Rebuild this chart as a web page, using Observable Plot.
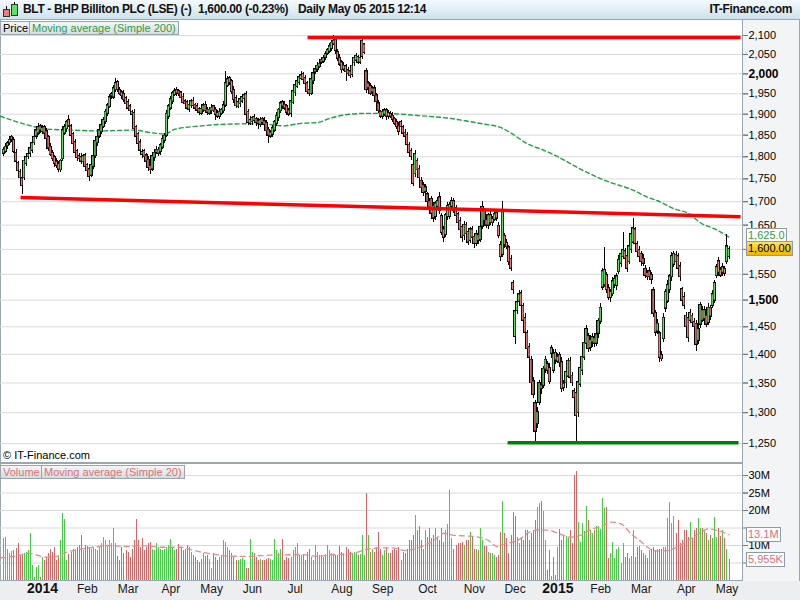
<!DOCTYPE html>
<html><head><meta charset="utf-8">
<script src="https://cdn.jsdelivr.net/npm/d3@7"></script>
<script src="https://cdn.jsdelivr.net/npm/@observablehq/plot@0.6"></script>
<style>
body{margin:0;background:#fff;font-family:"Liberation Sans",Arial,sans-serif;}
#wrap{position:relative;width:800px;height:600px;overflow:hidden;background:#fff;}
.abs{position:absolute;}
#hdr{left:0;top:0;width:800px;height:19px;background:linear-gradient(#f4fafd,#cde2ee);border-bottom:1px solid #9aa8b4;font-weight:bold;font-size:12px;color:#111;letter-spacing:-0.35px;}
#hdr span{position:absolute;line-height:19px;top:0;white-space:nowrap;}
.leg{position:absolute;height:12px;line-height:12px;font-size:11px;padding:0 2px;background:linear-gradient(#f3f6f8,#d6dde2);border:1px solid #98a4ae;white-space:nowrap;}
.box{position:absolute;font-size:11px;line-height:13px;height:13px;padding:0 1px;border:1px solid #8f9aa4;white-space:nowrap;}
</style></head>
<body>
<div id="wrap">
  <div class="abs" style="left:743px;top:20px;width:56px;height:561px;background:#f3f4f5;border-right:1px solid #9aa6b0;"></div>
  <div class="abs" style="left:0;top:581px;width:800px;height:19px;background:#eceef0;"></div>
  <div class="abs" style="left:0;top:20px;width:743px;height:443px;box-sizing:border-box;border-left:1px solid #9aa6b0;border-right:1px solid #9aa6b0;border-bottom:1px solid #9aa6b0;"></div>
  <div class="abs" style="left:0;top:463px;width:743px;height:118px;box-sizing:border-box;border-left:1px solid #9aa6b0;border-right:1px solid #9aa6b0;border-top:1px solid #9aa6b0;border-bottom:1px solid #9aa6b0;"></div>
  <div id="price" class="abs" style="left:0;top:20px;"></div>
  <div id="vol" class="abs" style="left:0;top:463px;"></div>
  <div id="hdr" class="abs">
    <div class="abs" style="left:6px;top:6px;width:1px;height:11px;background:#000"></div>
    <div class="abs" style="left:3px;top:9px;width:5px;height:6px;background:#f07a7a;border:1px solid #333"></div>
    <div class="abs" style="left:14px;top:2px;width:1px;height:14px;background:#000"></div>
    <div class="abs" style="left:11px;top:4px;width:5px;height:10px;background:#5fe05f;border:1px solid #333"></div>
    <span style="left:23px">BLT - BHP Billiton PLC (LSE) (-)</span>
    <span style="left:198px">1,600.00 (-0.23%)</span>
    <span style="left:298px">Daily</span>
    <span style="left:328px">May 05 2015 12:14</span>
    <span style="right:8px">IT-Finance.com</span>
  </div>
  <div class="leg" style="left:0;top:21px;color:#000">Price</div>
  <div class="leg" style="left:29px;top:21px;color:#2f9e3f">Moving average (Simple 200)</div>
  <div class="leg" style="left:0;top:465px;color:#e07070">Volume</div>
  <div class="leg" style="left:41px;top:465px;color:#e07070">Moving average (Simple 20)</div>
  <div class="abs" style="left:3px;top:448px;font-size:11px;line-height:14px;color:#000">© IT-Finance.com</div>
  <div id="labels"></div>
</div>
<script>
const open = [
1808,1812,1825,1832,1845,1838,1808,1785,1765,1750,
1752,1785,1800,1808,1815,1832,1848,1855,1870,1858,
1868,1858,1845,1822,1808,1798,1788,1782,1770,1795,
1855,1865,1885,1870,1852,1832,1812,1800,1798,1788,
1802,1780,1770,1758,1778,1802,1832,1848,1858,1870,
1882,1902,1918,1948,1942,1960,1978,1958,1952,1948,
1938,1928,1918,1900,1902,1868,1852,1832,1805,1812,
1802,1792,1778,1772,1798,1815,1808,1812,1822,1838,
1850,1895,1915,1932,1948,1958,1955,1952,1942,1930,
1928,1912,1920,1932,1922,1918,1912,1902,1910,1922,
1910,1902,1908,1918,1910,1902,1895,1902,1908,1922,
1970,1988,1980,1958,1938,1918,1925,1932,1938,1948,
1905,1878,1882,1892,1888,1882,1875,1888,1882,1878,
1862,1848,1852,1862,1878,1892,1908,1928,1922,1918,
1908,1902,1928,1952,1968,1978,1988,1998,1988,1975,
1958,1950,1982,2005,2012,2018,2035,2032,2042,2052,
2058,2065,2078,2088,2055,2040,2028,2012,2018,2008,
2005,1998,2028,2035,2042,2030,2085,2075,2005,1975,
1968,1955,1962,1945,1925,1905,1895,1900,1908,1895,
1900,1895,1888,1880,1870,1880,1868,1855,1850,1827,
1812,1780,1761,1790,1772,1745,1735,1722,1715,1700,
1705,1690,1668,1690,1708,1668,1640,1630,1668,1668,
1690,1700,1685,1672,1658,1645,1628,1650,1635,1618,
1640,1625,1612,1628,1620,1648,1680,1660,1650,1670,
1655,1662,1675,1648,1608,1590,1627,1612,1603,1580,
1532,1432,1480,1498,1512,1488,1465,1438,1412,1390,
1352,1315,1282,1317,1345,1346,1374,1382,1375,1402,
1372,1402,1388,1398,1385,1342,1350,1362,1388,1362,
1335,1332,1300,1348,1372,1395,1420,1432,1412,1422,
1428,1420,1438,1460,1525,1530,1548,1522,1505,1512,
1530,1528,1555,1572,1585,1595,1585,1575,1600,1615,
1640,1610,1598,1590,1580,1560,1552,1555,1548,1518,
1475,1442,1437,1398,1428,1485,1498,1520,1545,1570,
1588,1585,1565,1520,1505,1470,1465,1462,1470,1458,
1455,1425,1455,1480,1465,1470,1458,1485,1490,1500,
1547,1575,1558,1554,1560,1575,1585];
const close = [
1815,1822,1830,1838,1840,1812,1790,1768,1752,1735,
1790,1798,1805,1818,1830,1845,1860,1868,1862,1866,
1855,1842,1820,1805,1795,1785,1780,1772,1790,1860,
1868,1880,1872,1850,1830,1810,1798,1795,1790,1800,
1778,1768,1755,1780,1800,1835,1845,1860,1872,1885,
1905,1920,1940,1945,1962,1975,1960,1950,1945,1935,
1925,1915,1908,1905,1865,1848,1830,1815,1810,1800,
1790,1775,1770,1800,1808,1810,1815,1825,1840,1848,
1900,1918,1935,1950,1955,1952,1950,1940,1928,1925,
1915,1922,1930,1920,1915,1910,1905,1912,1920,1908,
1905,1910,1915,1908,1900,1895,1905,1910,1920,1975,
1985,1978,1955,1935,1920,1928,1935,1940,1945,1900,
1880,1885,1890,1885,1880,1878,1885,1880,1875,1860,
1850,1855,1865,1880,1895,1910,1925,1920,1915,1905,
1900,1930,1955,1970,1980,1990,1995,1985,1975,1955,
1950,1985,2000,2010,2020,2025,2030,2040,2050,2060,
2070,2080,2085,2060,2040,2025,2010,2020,2005,2000,
1995,2020,2040,2045,2030,2040,2045,2055,1960,1965,
1950,1962,1945,1930,1908,1895,1905,1908,1895,1902,
1895,1888,1878,1870,1858,1870,1855,1848,1828,1810,
1800,1740,1805,1770,1752,1730,1720,1730,1700,1688,
1675,1665,1695,1700,1680,1635,1625,1670,1690,1692,
1700,1682,1670,1655,1640,1625,1650,1632,1615,1640,
1625,1612,1630,1618,1645,1688,1660,1650,1670,1655,
1662,1672,1665,1628,1585,1680,1610,1605,1575,1562,
1520,1478,1495,1510,1490,1462,1440,1410,1395,1350,
1330,1270,1300,1349,1340,1374,1390,1372,1352,1410,
1400,1390,1395,1385,1340,1348,1368,1388,1360,1350,
1325,1295,1350,1375,1395,1420,1445,1410,1425,1430,
1420,1435,1460,1485,1555,1558,1520,1505,1515,1535,
1540,1545,1578,1590,1598,1582,1562,1605,1630,1642,
1612,1595,1585,1575,1572,1548,1545,1545,1540,1475,
1440,1455,1395,1392,1466,1515,1528,1545,1585,1590,
1575,1562,1545,1500,1490,1450,1430,1475,1458,1450,
1418,1445,1490,1462,1480,1455,1485,1470,1510,1532,
1563,1554,1548,1563,1552,1605,1600];
const upWick = [
6,8,5,10,4,6,9,5,7,6, 8,5,6,4,9,7,5,10,6,8, 5,7,4,8,6,5,9,6,4,10, 7,5,12,6,4,8,5,7,9,5,
6,4,8,5,10,6,7,5,8,6, 7,5,9,6,8,12,5,7,6,9, 5,8,6,4,10,6,5,8,7,5, 6,9,5,7,4,8,6,5,9,7,
10,6,8,5,9,7,6,4,8,6, 5,8,6,9,4,7,5,10,6,8, 6,5,9,4,7,6,8,5,10,30, 8,6,5,9,7,4,6,8,5,7,
6,9,5,7,4,8,6,5,9,6, 7,5,8,6,10,5,7,6,9,5, 6,8,5,9,7,6,10,5,8,6, 5,7,9,6,8,5,7,6,9,5,
8,6,15,5,7,9,6,8,5,7, 6,9,5,8,6,7,10,5,8,6, 7,5,8,6,9,4,7,6,5,8, 6,8,5,7,9,6,5,8,6,7,
8,6,10,5,7,9,6,8,5,7, 6,9,5,8,12,6,7,5,9,6, 8,6,7,5,9,6,8,5,7,6, 7,5,9,6,8,12,6,7,5,9,
6,8,5,7,9,20,6,8,5,7, 6,9,5,8,7,6,9,5,8,6, 7,5,9,6,8,5,7,6,9,5, 8,6,7,5,9,6,8,5,7,6,
5,8,6,9,7,5,8,6,9,7, 6,9,5,8,7,45,6,9,5,8, 7,6,9,5,37,6,6,8,5,23, 6,6,8,5,9,7,6,8,5,7,
6,9,5,7,8,6,9,5,8,6, 8,6,8,5,9,7,6,8,5,7, 6,9,5,8,7,6,9,5,8,6, 7,9,6,8,5,25,5];
const downWick = [
7,5,9,6,8,5,7,6,9,20, 5,8,6,9,7,5,8,6,7,5, 8,6,9,5,7,10,6,8,5,7, 6,9,5,8,7,6,9,5,8,6,
7,5,10,6,8,5,9,6,7,5, 6,8,5,9,7,6,8,5,9,7, 8,6,9,5,7,6,10,5,8,6, 7,9,10,6,8,5,7,9,6,8,
5,7,6,9,5,8,6,7,5,9, 6,8,5,7,9,6,8,5,7,6, 8,6,9,5,15,6,8,5,7,6, 5,8,6,9,7,5,8,6,9,15,
7,5,8,6,9,15,6,8,5,10, 20,6,8,5,7,9,6,8,5,7, 6,9,5,8,6,7,5,9,6,8, 7,5,8,6,9,5,7,6,8,5,
6,8,5,9,7,6,8,5,25,7, 8,6,9,5,7,6,8,5,9,6, 5,8,6,9,7,5,8,6,9,7, 6,8,5,7,9,6,8,5,7,6,
8,6,9,5,7,6,9,8,5,7, 6,9,8,7,8,6,12,5,8,6, 9,7,5,8,6,10,9,5,7,6, 8,10,6,9,5,7,8,6,9,5,
7,5,8,6,9,6,8,5,7,6, 9,15,8,6,9,5,7,8,6,9, 7,20,8,5,9,6,8,7,5,9, 6,8,5,9,7,6,9,5,8,6,
7,45,8,6,9,5,8,6,7,9, 8,6,9,5,7,6,8,5,9,6, 7,9,6,8,5,7,9,6,8,5, 6,8,5,9,7,6,8,5,9,7,
8,6,9,4,6,8,5,7,9,6, 7,5,9,6,8,7,9,6,8,5, 13,8,8,5,9,7,6,8,5,7, 6,8,5,9,7,6,5];
const volume = [
12.0,12.3,9.0,7.7,8.2,8.6,9.2,10.5,7.1,7.5, 7.7,8.0,8.6,13.3,4.3,1.0,3.8,4.3,1.0,6.7,
5.7,6.5,7.6,9.0,8.0,9.5,5.7,7.0,11.4,19.2, 17.4,5.7,7.5,8.0,9.0,8.6,9.5,10.0,12.8,8.6,
10.0,9.8,9.5,9.0,9.5,9.0,8.5,9.5,10.6,12.3, 11.4,10.0,11.4,10.6,15.0,10.5,7.0,5.7,9.5,7.6,
8.6,8.0,6.7,9.0,11.4,17.4,11.4,9.5,12.0,8.6, 9.5,10.5,11.0,9.0,8.6,10.5,9.5,9.0,8.6,9.0,
9.5,10.0,11.7,9.5,8.6,9.0,10.3,9.5,8.6,9.0, 10.0,9.5,8.0,7.1,6.5,5.7,5.2,6.0,7.6,7.0,
7.1,6.0,3.5,7.8,6.5,5.7,6.5,7.1,11.4,11.0, 9.5,8.6,7.6,6.5,5.7,5.7,6.0,6.2,5.7,3.5,
3.5,11.6,8.1,7.6,6.5,5.7,6.0,5.7,5.7,6.0, 6.2,6.0,5.7,11.6,8.6,7.6,9.0,11.6,5.7,6.7,
6.2,6.5,8.6,9.5,10.5,7.1,7.1,7.5,5.7,8.0, 8.8,6.5,5.7,10.0,8.0,7.1,7.1,6.7,7.5,10.0,
8.5,7.6,7.5,7.1,7.1,9.7,8.0,7.6,9.5,9.0, 8.0,7.6,8.1,8.0,7.1,7.5,12.9,7.1,24.8,13.0,
8.0,9.0,8.1,9.5,13.8,9.0,7.1,8.5,9.5,7.6, 7.6,8.5,9.0,8.6,9.5,5.7,8.1,7.6,9.0,11.4,
11.4,12.9,18.6,14.3,15.4,11.4,9.0,14.3,12.4,14.8, 11.9,13.0,15.0,12.4,11.4,14.8,11.0,14.3,16.0,25.7,
11.9,9.0,10.0,10.5,10.5,11.0,10.0,11.4,11.4,13.8, 12.4,9.0,8.8,8.6,15.0,11.4,9.7,9.7,8.1,7.6,
7.6,7.1,6.7,7.1,13.8,22.6,13.3,11.9,7.6,12.9, 19.5,18.3,12.4,10.5,12.4,11.4,14.3,14.3,11.4,13.3,
14.3,17.1,21.0,21.9,22.6,19.8,11.4,2.9,8.6,1.1, 6.7,1.4,9.5,14.5,11.4,12.9,12.6,11.9,14.3,10.7,
30.0,31.1,16.7,11.0,16.2,14.1,21.1,17.1,14.3,13.3, 14.3,15.4,15.4,14.5,23.3,20.5,21.0,6.2,7.6,11.0,
6.2,8.8,9.5,4.8,10.5,6.7,7.6,6.2,7.0,14.3, 6.7,9.5,9.7,8.6,7.6,7.1,6.2,8.6,9.0,9.5,
8.6,9.0,9.0,9.0,9.5,9.5,17.8,22.4,16.4,18.3, 13.3,17.1,10.5,11.4,14.3,14.3,12.4,16.7,11.9,14.3,
14.8,17.6,14.8,14.8,14.3,13.3,11.4,12.9,11.9,18.1, 12.4,14.8,12.6,14.3,12.0,9.0,5.955];

const ma200Idx = [-1.6,15,20,33,47,64,72,79,84,97,109,121,131,137,146,154,160,170,178,186,195,203,211,219,228,236,244,249,257,265,272,283,296,309,316,322,329,336,342,350,356];
const ma200Val = [1895,1870,1865,1862,1860,1862,1856,1853,1864,1872,1876,1877,1875,1872,1878,1880,1890,1900,1902,1902,1900,1897,1894,1890,1883,1876,1868,1855,1830,1815,1800,1772,1745,1725,1710,1700,1685,1675,1655,1640,1625];
const ma20Idx = [-1.6,7,12,17,20,26,31,38,44,51,61,67,77,87,93,102,110,119,126,136,146,154,162,170,179,185,191,197,205,211,216,221,228,233,238,242,246,252,258,263,268,273,278,283,288,293,298,303,308,313,316,321,326,331,336,341,346,350,356];
const ma20Val = [6.5,7.1,7.8,7.1,6.7,6.9,8.1,9.0,9.5,10.0,9.7,10.0,9.5,9.5,8.6,7.6,7.0,6.9,7.1,7.3,7.4,6.9,7.4,7.6,9.0,9.3,9.3,8.6,9.7,11.4,13.5,12.9,12.7,12.4,11.4,9.7,10.5,11.4,13.8,14.5,14.3,13.3,12.4,12.9,14.5,15.4,16.7,16.2,13.3,11.0,9.5,8.4,8.6,9.7,11.4,13.3,14.8,14.3,13.1];

const priceTicks = [1250,1300,1350,1400,1450,1500,1550,1600,1650,1700,1750,1800,1850,1900,1950,2000,2050,2100];
const boldPriceTicks = [1500,2000];
const hiddenPriceLabels = [1600];          // covered by the last-price box
const volTicks = [5,10,15,20,25,30];
const hiddenVolLabels = [5,15];            // covered by the value boxes
const monthIdx = [41,61,82,102,122,143,166,186,208,231,251,293,313,335,355];
const monthLabels = ["Feb","Mar","Apr","May","Jun","Jul","Aug","Sep","Oct","Nov","Dec","Feb","Mar","Apr","May"];
const yearIdx = [19,272];
const yearLabels = ["2014","2015"];
const lineStart = [149.1, 8.2, 247.3];
const lineEnd = [361.7, 361.7, 360.7];
const lineStartPrice = [2095, 1709, 1251];
const lineEndPrice = [2095, 1668, 1251];
const lineColors = ["#ff0000", "#ff0000", "#008000"];
const maLast = 1625.0, volMaLast = 13.1;

const N = close.length;
const candles = close.map((c, i) => ({
  i, o: open[i], c,
  h: Math.max(open[i], c) + upWick[i],
  l: Math.min(open[i], c) - downWick[i],
  v: volume[i], up: c >= open[i],
  vUp: i === 0 ? c >= open[i] : c >= close[i - 1]   // volume coloured by change vs previous close
}));
const maPts = ma200Idx.map((i, k) => ({i, v: ma200Val[k]}));
const ma20Pts = ma20Idx.map((i, k) => ({i, v: ma20Val[k]}));
const trend = lineStart.map((s, k) => ({i1: s, i2: lineEnd[k], p1: lineStartPrice[k], p2: lineEndPrice[k], color: lineColors[k]}));
const months = monthIdx.map((i, k) => ({i, label: monthLabels[k]}));
const years = yearIdx.map((i, k) => ({i, label: yearLabels[k]}));
const normalLabelTicks = priceTicks.filter(t => !boldPriceTicks.includes(t) && !hiddenPriceLabels.includes(t));
const volLabelTicks = volTicks.filter(t => !hiddenVolLabels.includes(t));

const font = "Liberation Sans, Arial, sans-serif";
const xs = {type: "linear", domain: [0, N - 1], range: [3.3, 728.5], axis: null};

const price = Plot.plot({
  width: 800, height: 442, marginLeft: 0, marginRight: 58, marginTop: 0, marginBottom: 0,
  style: {background: "transparent", overflow: "visible", fontFamily: font},
  x: xs,
  y: {type: "log", domain: [1250, 2100], range: [423, 15], axis: null},
  color: {type: "identity"},
  marks: [
    Plot.ruleY(priceTicks, {stroke: "#dadada", strokeWidth: 1}),
    Plot.line(maPts, {x: "i", y: "v", stroke: "#1f9e46", strokeWidth: 1.4, strokeDasharray: "4,3", curve: "monotone-x"}),
    Plot.ruleX(candles, {x: "i", y1: "l", y2: "h", stroke: "#000", strokeWidth: 1, shapeRendering: "crispEdges"}),
    Plot.rect(candles, {x1: d => d.i - 0.8, x2: d => d.i + 0.8, y1: "o", y2: "c", fill: "#000", insetTop: -1, insetBottom: -1, shapeRendering: "crispEdges"}),
    Plot.rect(candles, {x1: d => d.i - 0.8, x2: d => d.i + 0.8, y1: "o", y2: "c", fill: d => d.up ? "#5fe05f" : "#f07a7a", insetLeft: 0.9, insetRight: 0.9}),
    Plot.link(trend, {x1: "i1", y1: "p1", x2: "i2", y2: "p2", stroke: "color", strokeWidth: 3.5}),
    Plot.axisY(priceTicks, {anchor: "right", tickSize: 5, text: null, label: null, stroke: "#777"}),
    Plot.axisY(normalLabelTicks, {anchor: "right", tickSize: 5, tickPadding: 1, fontSize: 11, tickFormat: d3.format(","), label: null, stroke: "#777", fill: "#000"}),
    Plot.axisY(boldPriceTicks, {anchor: "right", tickSize: 5, tickPadding: 1, fontSize: 12, fontWeight: "bold", tickFormat: d3.format(","), label: null, stroke: "#777", fill: "#000"})
  ]
});
document.getElementById("price").appendChild(price);

const vol = Plot.plot({
  width: 800, height: 137, marginLeft: 0, marginRight: 58, marginTop: 0, marginBottom: 20,
  style: {background: "transparent", overflow: "visible", fontFamily: font},
  x: xs,
  y: {domain: [0, 30], range: [117, 12], axis: null},
  color: {type: "identity"},
  marks: [
    Plot.ruleY(volTicks, {stroke: "#dadada", strokeWidth: 1}),
    Plot.ruleX(candles, {x: "i", y1: d => 0, y2: "v", stroke: d => d.vUp ? "#3fd03f" : "#e45f5f", strokeWidth: 1, shapeRendering: "crispEdges"}),
    Plot.line(ma20Pts, {x: "i", y: "v", stroke: "#e88a8a", strokeWidth: 1.3, strokeDasharray: "5,4", curve: "monotone-x"}),
    Plot.axisY(volTicks, {anchor: "right", tickSize: 5, text: null, label: null, stroke: "#777"}),
    Plot.axisY(volLabelTicks, {anchor: "right", tickSize: 5, tickPadding: 1, fontSize: 11, tickFormat: d => d + "M", label: null, stroke: "#777", fill: "#000"}),
    Plot.text(months, {x: "i", text: "label", frameAnchor: "bottom", dy: 12, fontSize: 12, fill: "#1a1a1a"}),
    Plot.text(years, {x: "i", text: "label", frameAnchor: "bottom", dy: 12, fontSize: 14, fontWeight: "bold", fill: "#111"})
  ]
});
document.getElementById("vol").appendChild(vol);

// value boxes positioned through the plots' own scales
const py = price.scale("y"), vy = vol.scale("y");
const lab = document.getElementById("labels");
function addBox(text, top, color, bg) {
  const d = document.createElement("div");
  d.className = "box";
  d.style.left = "746px"; d.style.top = top + "px"; d.style.color = color; d.style.background = bg;
  d.textContent = text;
  lab.appendChild(d);
}
const tClose = 20 + py.apply(close[N - 1]) - 7.5;
const tMa = Math.min(20 + py.apply(maLast) - 7, tClose - 13);
addBox(d3.format(",.1f")(maLast), tMa, "#2f9e3f", "#fff");
addBox(d3.format(",.2f")(close[N - 1]), tClose, "#000", "linear-gradient(#ffe35a,#f3b400)");
addBox(volMaLast.toFixed(1) + "M", 463 + vy.apply(volMaLast) - 7.5, "#e06a7a", "#fff");
addBox(d3.format(",")(Math.round(volume[N - 1] * 1000)) + "K", 463 + vy.apply(volume[N - 1]) - 7.5, "#e06a7a", "#fff");
</script>
</body></html>
